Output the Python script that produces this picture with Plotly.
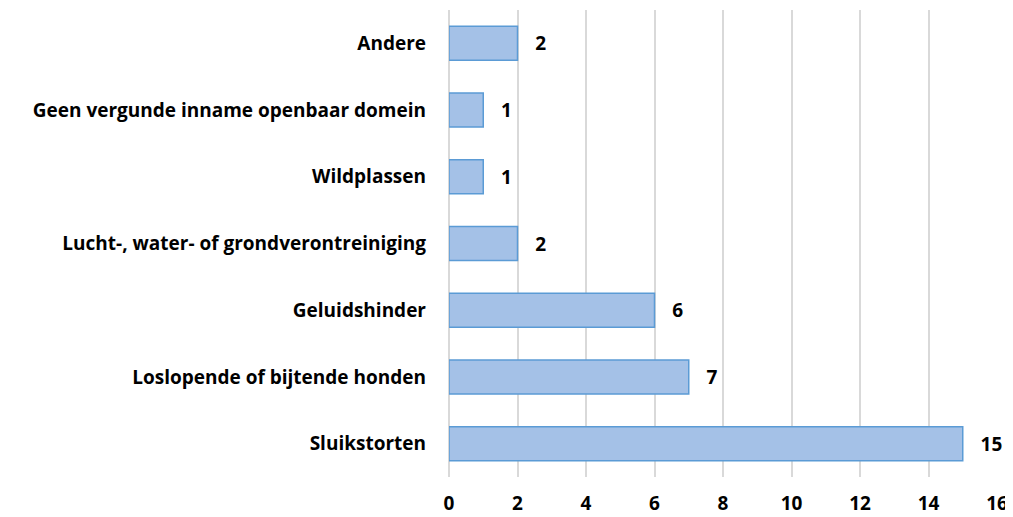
import plotly.graph_objects as go

categories = [
    "Sluikstorten",
    "Loslopende of bijtende honden",
    "Geluidshinder",
    "Lucht-, water- of grondverontreiniging",
    "Wildplassen",
    "Geen vergunde inname openbaar domein",
    "Andere",
]
counts = [15, 7, 6, 2, 1, 1, 2]
x_ticks = [0, 2, 4, 6, 8, 10, 12, 14, 16]

FONT = "Open Sans"

fig = go.Figure(
    go.Bar(
        y=categories,
        x=counts,
        orientation="h",
        marker=dict(color="#a4c1e7", line=dict(color="#5b9bd5", width=1.5)),
        text=[f"<b>{c}</b>" for c in counts],
        texttemplate="   %{text}",
        textposition="outside",
        textfont=dict(family=FONT, size=19, color="black"),
        cliponaxis=False,
        width=0.51,
    )
)

fig.update_xaxes(
    range=[0, 16],
    tickvals=x_ticks,
    ticktext=[f"<b>{t}</b>" for t in x_ticks],
    tickfont=dict(family=FONT, size=19, color="black"),
    showgrid=True,
    gridcolor="#d9d9d9",
    gridwidth=2,
    zeroline=True,
    zerolinecolor="#d9d9d9",
    zerolinewidth=2,
    showline=False,
    ticks="",
    ticklabelstandoff=13,
    automargin=False,
)
fig.update_yaxes(
    categoryorder="array",
    categoryarray=categories,
    ticktext=[f"<b>{c}</b>" for c in categories],
    tickvals=categories,
    tickfont=dict(family=FONT, size=19, color="black"),
    showgrid=False,
    showline=False,
    ticks="",
    ticklabelstandoff=22,
    automargin=False,
)
# the page body adds an 8px offset, so margins are shifted to compensate
fig.update_layout(
    width=1013,
    height=517,
    margin=dict(l=441, r=24, t=2, b=48),
    plot_bgcolor="white",
    paper_bgcolor="white",
    showlegend=False,
)

fig.write_html("out.html")
